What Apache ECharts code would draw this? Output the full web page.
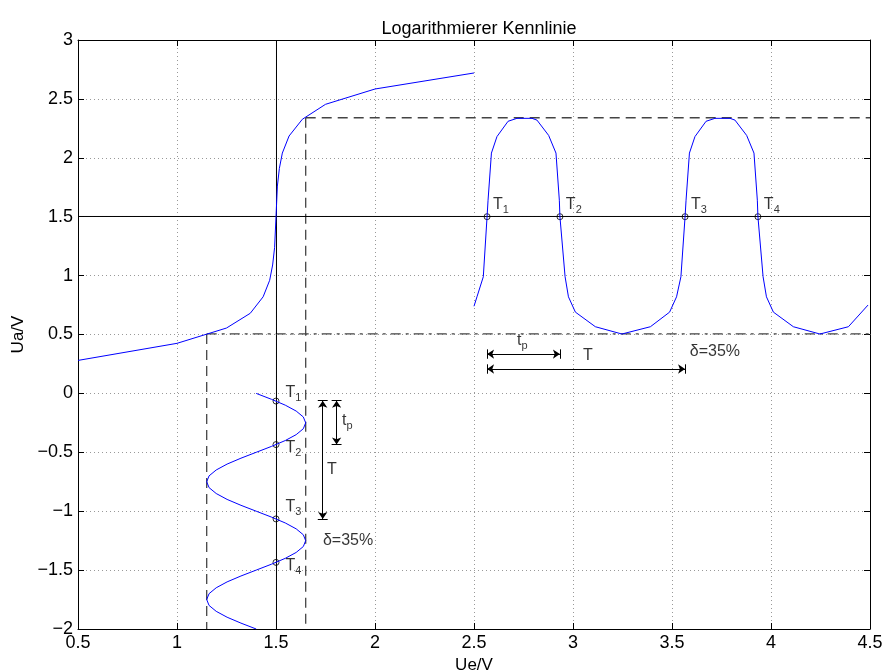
<!DOCTYPE html>
<html>
<head>
<meta charset="utf-8">
<script src="https://cdn.jsdelivr.net/npm/echarts@6/dist/echarts.min.js"></script>
<style>
  html, body { margin: 0; padding: 0; background: #fff; }
  #chart { width: 885px; height: 672px; }
</style>
</head>
<body>
<div id="chart"></div>
<script>
// Kennlinie (Ue -> Ua)
var kennX = [0.5, 1.0, 1.25, 1.37, 1.435, 1.468, 1.483, 1.493, 1.5, 1.507, 1.517, 1.532, 1.566, 1.633, 1.75, 2.0, 2.5];
var kennY = [0.28, 0.425, 0.555, 0.68, 0.82, 0.96, 1.09, 1.24, 1.5, 1.76, 1.91, 2.04, 2.185, 2.327, 2.454, 2.584, 2.72];

// Eingangssignal (Sinus, Zeit nach unten)
var sinT = [0, -0.05, -0.1, -0.15, -0.2, -0.25, -0.3, -0.35, -0.4, -0.45, -0.5, -0.55, -0.6, -0.65, -0.7, -0.75, -0.8, -0.85, -0.9, -0.95, -1.0,
  -1.05, -1.1, -1.15, -1.2, -1.25, -1.3, -1.35, -1.4, -1.45, -1.5, -1.55, -1.6, -1.65, -1.7, -1.75, -1.8, -1.85, -1.9, -1.95, -2.0];
var sinUe = [1.4, 1.477, 1.547, 1.602, 1.638, 1.65, 1.638, 1.602, 1.547, 1.477, 1.4, 1.323, 1.253, 1.198, 1.162, 1.15, 1.162, 1.198, 1.253, 1.323, 1.4,
  1.477, 1.547, 1.602, 1.638, 1.65, 1.638, 1.602, 1.547, 1.477, 1.4, 1.323, 1.253, 1.198, 1.162, 1.15, 1.162, 1.198, 1.253, 1.323, 1.4];

// Ausgangssignal (Pulse)
var pulsT = [2.5, 2.515, 2.547, 2.566, 2.571, 2.588, 2.616, 2.672, 2.717, 2.793, 2.818, 2.877, 2.914, 2.931, 2.934, 2.96, 2.977, 3.012, 3.113, 3.247, 3.391, 3.488, 3.523, 3.545,
  3.566, 3.571, 3.588, 3.616, 3.672, 3.717, 3.793, 3.818, 3.877, 3.914, 3.931, 3.934, 3.96, 3.977, 4.012, 4.113, 4.247, 4.391, 4.49];
var pulsUa = [0.74, 0.82, 0.99, 1.5, 1.64, 2.04, 2.18, 2.31, 2.335, 2.335, 2.32, 2.19, 2.04, 1.64, 1.5, 0.99, 0.82, 0.69, 0.566, 0.504, 0.566, 0.69, 0.82, 0.99,
  1.5, 1.64, 2.04, 2.18, 2.31, 2.335, 2.335, 2.32, 2.19, 2.04, 1.64, 1.5, 0.99, 0.82, 0.69, 0.566, 0.504, 0.566, 0.75];

// Schnittpunkte T1..T4
var markX = [2.566, 2.934, 3.566, 3.934, 1.5, 1.5, 1.5, 1.5];
var markY = [1.5, 1.5, 1.5, 1.5, -0.065, -0.4345, -1.0655, -1.4345];

// Texte
var textX = [2.596, 2.964, 3.596, 3.964, 1.548, 1.548, 1.548, 1.548, 2.717, 3.05, 3.59, 1.833, 1.758, 1.737];
var textY = [1.59, 1.59, 1.59, 1.59, -0.01, -0.48, -0.98, -1.48, 0.43, 0.30, 0.334, -0.25, -0.66, -1.27];
var textS = ['{a|T}{b|1}', '{a|T}{b|2}', '{a|T}{b|3}', '{a|T}{b|4}', '{a|T}{b|1}', '{a|T}{b|2}', '{a|T}{b|3}', '{a|T}{b|4}',
  '{a|t}{b|p}', '{a|T}', '{a|δ=35%}', '{a|t}{b|p}', '{a|T}', '{a|δ=35%}'];

// Pfeile (Start, Ende)
var arrowFrom = [[2.566, 0.334], [2.566, 0.207], [1.736, -0.062], [1.806, -0.062]];
var arrowTo = [[2.934, 0.334], [3.566, 0.207], [1.736, -1.066], [1.806, -0.434]];

var xTicks = [0.5, 4.5, 0.5];
var yTicks = [-2, 3, 0.5];

var font = "'Liberation Sans', Arial, Helvetica, sans-serif";
var chart = echarts.init(document.getElementById('chart'));

function pairs(xs, ys) {
  return xs.map(function (x, i) { return [x, ys[i]]; });
}

var arrowLines = arrowFrom.map(function (p, i) { return { coords: [p, arrowTo[i]] }; });
var endBars = [];
arrowFrom.forEach(function (p, i) {
  var q = arrowTo[i];
  [p, q].forEach(function (e) {
    if (p[1] === q[1]) {
      endBars.push([[e[0], e[1] - 0.04], [e[0], e[1] + 0.04]]);
    } else {
      endBars.push([[e[0] - 0.025, e[1]], [e[0] + 0.025, e[1]]]);
    }
  });
});

function seg(a, b, style) {
  return {
    type: 'line', data: [a, b], symbol: 'none', silent: true, animation: false,
    lineStyle: style
  };
}

var dash = { color: '#444', width: 1.3, type: [10, 6] };
var dashDot = { color: '#444', width: 1.3, type: [10, 5, 3, 5] };
var solid = { color: '#000', width: 1 };

var series = [
  seg([1.65, 2.34], [4.5, 2.34], dash),
  seg([1.65, 2.34], [1.65, -2], dash),
  seg([1.15, 0.505], [4.5, 0.505], dashDot),
  seg([1.15, 0.505], [1.15, -2], dash),
  seg([0.5, 1.5017], [4.5, 1.5017], solid),
  seg([1.5025, -2], [1.5025, 3], solid),
  { type: 'line', data: pairs(kennX, kennY), symbol: 'none', animation: false, lineStyle: { color: '#0000ff', width: 1 } },
  { type: 'line', data: pairs(sinUe, sinT), symbol: 'none', animation: false, lineStyle: { color: '#0000ff', width: 1 } },
  { type: 'line', data: pairs(pulsT, pulsUa), symbol: 'none', animation: false, lineStyle: { color: '#0000ff', width: 1 } },
  {
    type: 'scatter', data: pairs(markX, markY), symbol: 'circle', symbolSize: 6, animation: false,
    itemStyle: { color: '#fff', borderColor: '#000', borderWidth: 1 }
  },
  {
    type: 'lines', coordinateSystem: 'cartesian2d', data: arrowLines, animation: false,
    symbol: ['arrow', 'arrow'], symbolSize: 7,
    lineStyle: { color: '#000', width: 1, opacity: 1 }
  },
  {
    type: 'lines', coordinateSystem: 'cartesian2d', animation: false,
    data: endBars.map(function (c) { return { coords: c }; }),
    lineStyle: { color: '#000', width: 1, opacity: 1 }
  },
  {
    type: 'scatter', symbolSize: 0, animation: false, silent: true,
    data: textX.map(function (x, i) { return [x, textY[i], textS[i]]; }),
    label: {
      show: true, position: 'inside', align: 'left', verticalAlign: 'middle',
      formatter: function (p) { return p.data[2]; },
      rich: {
        a: { fontSize: 16, lineHeight: 18, padding: [0, 0, 3, 0], verticalAlign: 'bottom', color: '#000', fontFamily: font },
        b: { fontSize: 11, lineHeight: 12, verticalAlign: 'bottom', color: '#000', fontFamily: font }
      }
    }
  }
];

var option = {
  backgroundColor: '#fff',
  animation: false,
  title: {
    text: 'Logarithmierer Kennlinie',
    left: 474, top: 15, textAlign: 'center',
    textStyle: { fontFamily: font, fontSize: 18, fontWeight: 'normal', color: '#000' }
  },
  grid: { left: 78, right: 15, top: 40, bottom: 43, containLabel: false, outerBoundsMode: 'none' },
  xAxis: [
    {
      type: 'value', min: xTicks[0], max: xTicks[1], interval: xTicks[2],
      name: 'Ue/V', nameLocation: 'middle', nameGap: 28,
      nameTextStyle: { fontFamily: font, fontSize: 17, color: '#000' },
      axisLine: { onZero: false, lineStyle: { color: '#000', width: 1 } },
      axisTick: { inside: true, length: 6, lineStyle: { color: '#000' } },
      axisLabel: { fontFamily: font, fontSize: 18, color: '#000', margin: 5 },
      splitLine: { show: true, lineStyle: { color: '#999', type: [1, 3], width: 1 } }
    },
    {
      type: 'value', position: 'top', min: xTicks[0], max: xTicks[1], interval: xTicks[2],
      axisLine: { onZero: false, lineStyle: { color: '#000', width: 1 } },
      axisTick: { inside: true, length: 6, lineStyle: { color: '#000' } },
      axisLabel: { show: false }, splitLine: { show: false }
    }
  ],
  yAxis: [
    {
      type: 'value', min: yTicks[0], max: yTicks[1], interval: yTicks[2],
      name: 'Ua/V', nameLocation: 'middle', nameGap: 47,
      nameTextStyle: { fontFamily: font, fontSize: 17, color: '#000' },
      axisLine: { show: true, onZero: false, lineStyle: { color: '#000', width: 1 } },
      axisTick: { show: true, inside: true, length: 6, lineStyle: { color: '#000' } },
      axisLabel: {
        fontFamily: font, fontSize: 18, color: '#000', margin: 5,
        formatter: function (v) { return v < 0 ? '\u2212' + Math.abs(v) : String(v); }
      },
      splitLine: { show: true, lineStyle: { color: '#999', type: [1, 3], width: 1 } }
    },
    {
      type: 'value', position: 'right', min: yTicks[0], max: yTicks[1], interval: yTicks[2],
      axisLine: { show: true, onZero: false, lineStyle: { color: '#000', width: 1 } },
      axisTick: { show: true, inside: true, length: 6, lineStyle: { color: '#000' } },
      axisLabel: { show: false }, splitLine: { show: false }
    }
  ],
  series: series
};

chart.setOption(option);
window.addEventListener('resize', function () { chart.resize(); });
</script>
</body>
</html>
